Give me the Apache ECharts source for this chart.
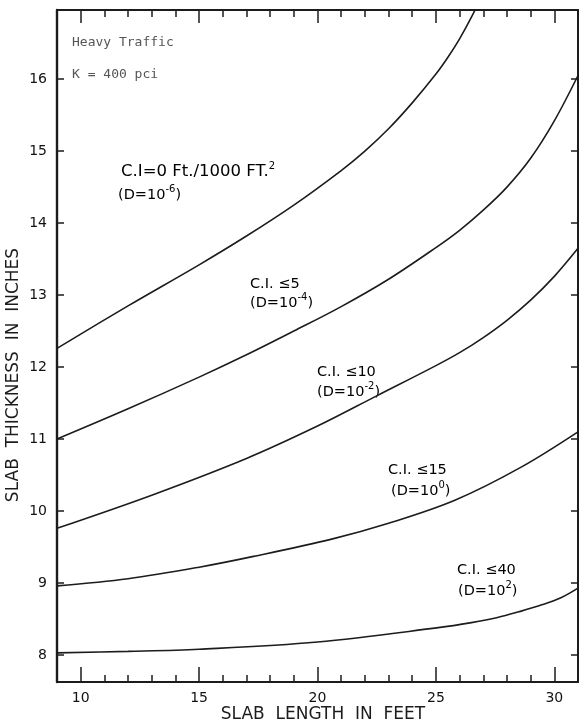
<!DOCTYPE html>
<html><head><meta charset="utf-8">
<script src="https://cdn.jsdelivr.net/npm/echarts@6/dist/echarts.min.js"></script>
<style>html,body{margin:0;padding:0;background:#fff}#c{width:579px;height:725px}</style>
</head><body><div id="c"></div>
<script>
// Axis ticks
const xMajorTicks = [10, 15, 20, 25, 30];
const yTicks = [8, 9, 10, 11, 12, 13, 14, 15, 16];

// Curves: slab length (ft) vs slab thickness (in)
const ci0Length  = [9.0, 12.0, 15.0, 17.0, 19.0, 21.0, 22.0, 23.0, 24.0, 25.0, 25.5, 26.0, 26.5, 27.0];
const ci0Thick   = [12.26, 12.85, 13.42, 13.82, 14.25, 14.73, 15.00, 15.31, 15.67, 16.07, 16.30, 16.56, 16.86, 17.20];

const ci5Length  = [9.0, 12.0, 15.0, 17.0, 19.0, 21.0, 23.0, 25.0, 26.0, 27.0, 28.0, 29.0, 30.0, 31.0];
const ci5Thick   = [11.0, 11.42, 11.86, 12.17, 12.50, 12.84, 13.22, 13.66, 13.90, 14.18, 14.50, 14.90, 15.42, 16.05];

const ci10Length = [9.0, 13.0, 17.0, 20.0, 22.5, 25.0, 26.0, 27.0, 28.0, 29.0, 30.0, 31.0];
const ci10Thick  = [9.76, 10.22, 10.73, 11.18, 11.60, 12.02, 12.20, 12.41, 12.65, 12.93, 13.26, 13.65];

const ci15Length = [9.0, 12.0, 15.0, 17.3, 20.6, 23.0, 25.8, 28.6, 31.0];
const ci15Thick  = [8.96, 9.06, 9.22, 9.37, 9.61, 9.83, 10.15, 10.61, 11.10];

const ci40Length = [9.0, 12.0, 15.0, 20.0, 25.1, 26.5, 27.6, 28.5, 29.5, 30.3, 31.0];
const ci40Thick  = [8.03, 8.05, 8.08, 8.18, 8.38, 8.45, 8.52, 8.60, 8.70, 8.80, 8.93];

const curveNames = ['C.I.=0', 'C.I.≤5', 'C.I.≤10', 'C.I.≤15', 'C.I.≤40'];
const curveX = [ci0Length, ci5Length, ci10Length, ci15Length, ci40Length];
const curveY = [ci0Thick, ci5Thick, ci10Thick, ci15Thick, ci40Thick];

const INK = '#1c1c1c';
const FONT = 'DejaVu Sans';

function lineSeries(i) {
  return {
    name: curveNames[i], type: 'line', xAxisIndex: 0, yAxisIndex: 0,
    data: curveX[i].map((x, k) => [x, curveY[i][k]]),
    smooth: 0.35, showSymbol: false, clip: true,
    lineStyle: { color: INK, width: 1.6 }, silent: true
  };
}

function xAx(pos, ticks, len, showLine, showLabel) {
  const a = {
    type: 'value', position: pos, min: 9, max: 31, offset: 0,
    axisLine: { show: showLine, onZero: false, lineStyle: { color: INK, width: 2 } },
    axisTick: { show: true, inside: true, length: len, lineStyle: { color: INK, width: 1.5 } },
    axisLabel: { show: showLabel, customValues: xMajorTicks, margin: 9, fontSize: 14, color: '#111', fontFamily: FONT },
    splitLine: { show: false }
  };
  if (ticks) { a.axisTick.customValues = ticks; } else { a.interval = 1; }
  return a;
}

function yAx(pos, showLabel) {
  return {
    type: 'value', position: pos, min: 7.625, max: 16.96, offset: 0,
    axisLine: { show: true, onZero: false, lineStyle: { color: INK, width: pos === 'left' ? 2.4 : 2 } },
    axisTick: { show: true, inside: true, length: 7, customValues: yTicks, lineStyle: { color: INK, width: 1.5 } },
    axisLabel: { show: showLabel, customValues: yTicks, margin: 10, fontSize: 14, color: '#111', fontFamily: FONT },
    splitLine: { show: false }
  };
}

const RICH = {
  a: { fontSize: 14.5, fontFamily: FONT, color: INK, lineHeight: 22 },
  b: { fontSize: 16.5, fontFamily: FONT, color: INK, lineHeight: 22 },
  s: { fontSize: 10, fontFamily: FONT, color: INK, lineHeight: 10, verticalAlign: 'top' }
};

function txt(x, y, s, font, fill) {
  return { type: 'text', x: x, y: y, silent: true,
    style: { text: s, font: font, fill: fill || INK, textAlign: 'left', textVerticalAlign: 'middle' } };
}
function rtxt(x, y, s) {
  return { type: 'text', x: x, y: y, silent: true,
    style: { text: s, rich: RICH, textAlign: 'left', textVerticalAlign: 'middle' } };
}

const chart = echarts.init(document.getElementById('c'), null, { renderer: 'canvas' });
chart.setOption({
  animation: false,
  backgroundColor: '#fff',
  grid: { left: 57, right: 1, top: 10, bottom: 43, containLabel: false },
  xAxis: [
    xAx('bottom', null, 7, true, true),
    xAx('bottom', xMajorTicks, 15, false, false),
    xAx('top', null, 7, true, false),
    xAx('top', xMajorTicks, 13, false, false)
  ],
  yAxis: [ yAx('left', true), yAx('right', false) ],
  series: [0, 1, 2, 3, 4].map(lineSeries),
  graphic: [
    txt(72, 43, 'Heavy Traffic', '13px "DejaVu Sans Mono"', '#555'),
    txt(72, 75, 'K = 400 pci', '13px "DejaVu Sans Mono"', '#555'),
    rtxt(121, 172, '{b|C.I=0 Ft./1000 FT.}{s|2}'),
    rtxt(118, 195, '{a|(D=10}{s|-6}{a|)}'),
    rtxt(250, 284, '{a|C.I. ≤5}'),
    rtxt(250, 303, '{a|(D=10}{s|-4}{a|)}'),
    rtxt(317, 372, '{a|C.I. ≤10}'),
    rtxt(317, 392, '{a|(D=10}{s|-2}{a|)}'),
    rtxt(388, 470, '{a|C.I. ≤15}'),
    rtxt(391, 491, '{a|(D=10}{s|0}{a|)}'),
    rtxt(457, 570, '{a|C.I. ≤40}'),
    rtxt(458, 591, '{a|(D=10}{s|2}{a|)}'),
    { type: 'text', x: 323, y: 715, silent: true,
      style: { text: 'SLAB  LENGTH  IN  FEET', font: '17px "DejaVu Sans"', fill: INK, textAlign: 'center', textVerticalAlign: 'middle' } },
    { type: 'text', x: 14, y: 375, rotation: Math.PI / 2, silent: true,
      style: { text: 'SLAB  THICKNESS  IN  INCHES', font: '17px "DejaVu Sans"', fill: INK, textAlign: 'center', textVerticalAlign: 'middle' } }
  ]
});
</script></body></html>
